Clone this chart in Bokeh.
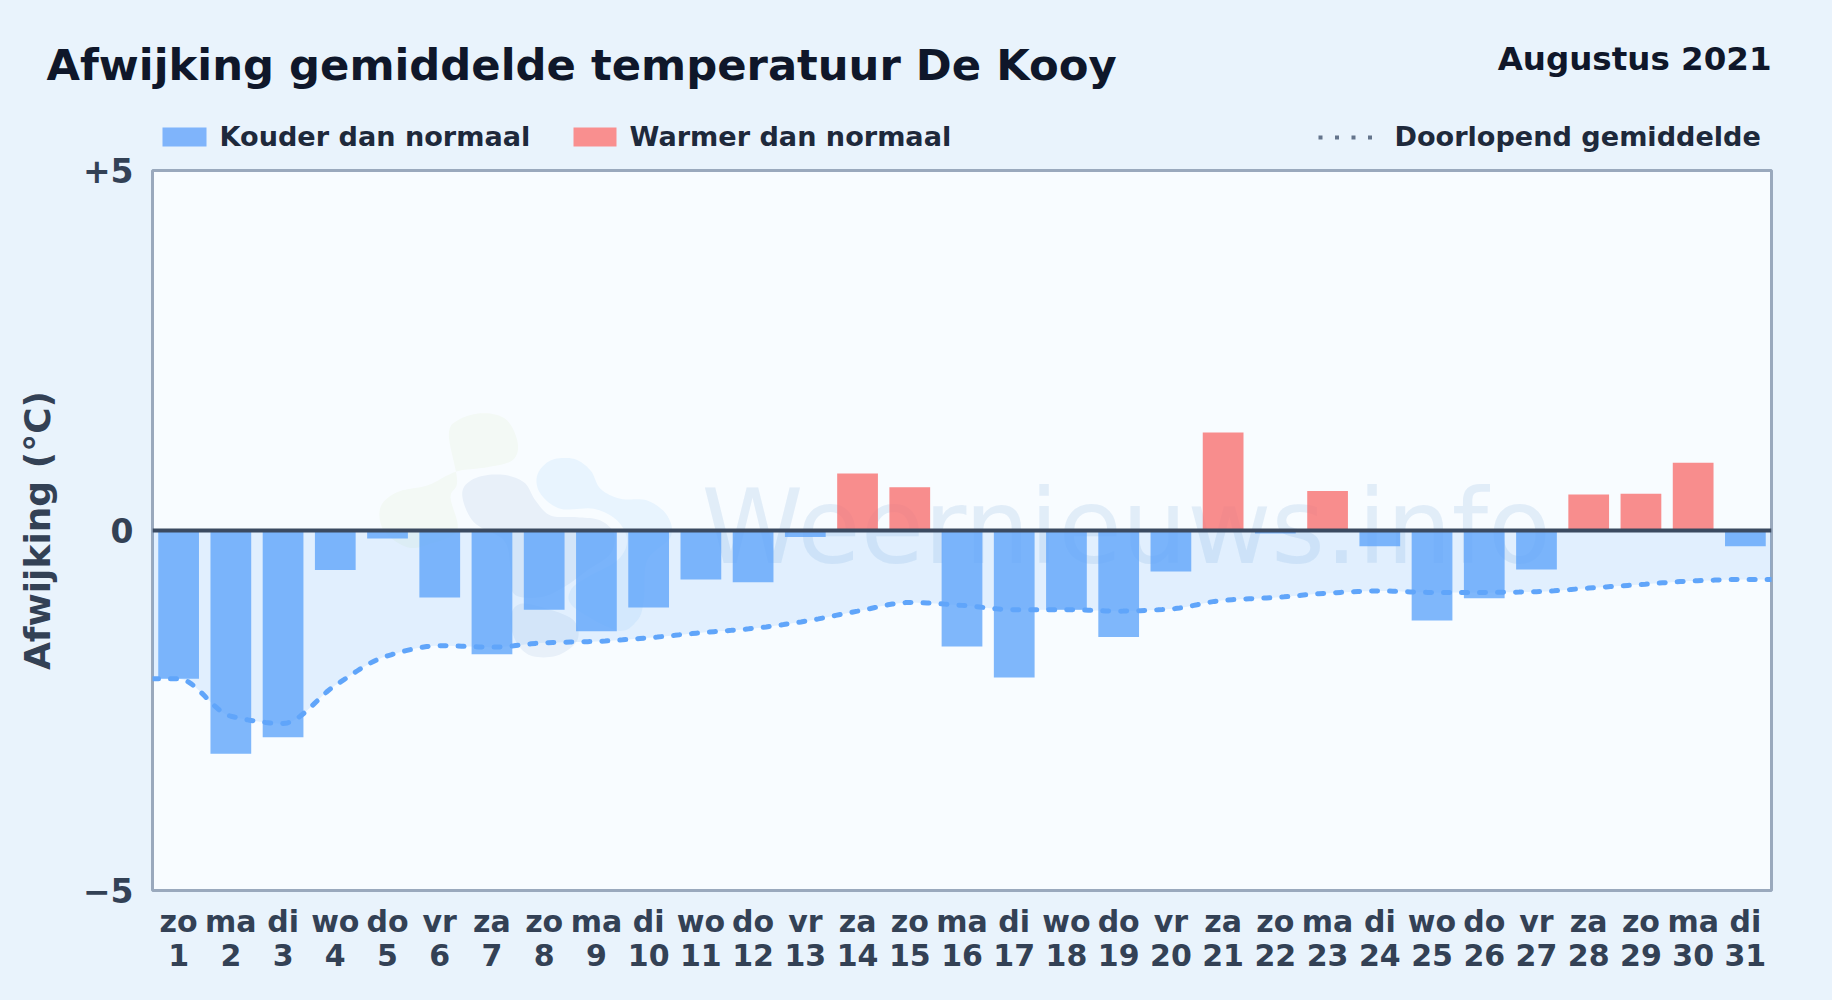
from bokeh.plotting import figure
from bokeh.models import Span, Range1d, FixedTicker, LinearAxis
from bokeh.core.properties import value
from bokeh.embed import file_html
from bokeh.resources import INLINE

# ---- data ----
days = list(range(1, 32))
weekdays = ["zo","ma","di","wo","do","vr","za","zo","ma","di","wo","do","vr","za","zo",
            "ma","di","wo","do","vr","za","zo","ma","di","wo","do","vr","za","zo","ma","di"]
afwijking = [-2.06,-3.10,-2.87,-0.55,-0.11,-0.93,-1.72,-1.10,-1.40,-1.07,-0.68,-0.72,-0.09,0.79,0.60,
             -1.61,-2.04,-1.10,-1.48,-0.57,1.36,-0.04,0.55,-0.22,-1.25,-0.94,-0.54,0.50,0.51,0.94,-0.22]
gemiddelde = [-2.06,-2.58,-2.68,-2.15,-1.74,-1.60,-1.62,-1.56,-1.54,-1.49,-1.42,-1.36,-1.26,-1.12,-1.00,
              -1.04,-1.10,-1.10,-1.12,-1.09,-0.97,-0.93,-0.87,-0.84,-0.86,-0.86,-0.85,-0.80,-0.75,-0.70,-0.68]
y_ticks = [-5, 0, 5]
y_tick_labels = {-5: "\u22125", 0: "0", 5: "+5"}

FONT = "DejaVu Sans"
W, H = 1832, 1000
HEAD = 165
F_L, F_T, F_W, F_H = 152, 170, 1619, 720   # frame on the page
BASE = 0.40   # renderer's alphabetic baseline sits this many font sizes lower

# ---- header strip: title, month and legend ----
hd = figure(width=W, height=HEAD, output_backend="svg", toolbar_location=None,
            x_range=Range1d(0, W), y_range=Range1d(HEAD, 0),
            min_border=0, x_axis_location=None, y_axis_location=None)
hd.border_fill_color = None
hd.background_fill_color = None
hd.outline_line_color = None
hd.grid.visible = False

def head_text(x, y, s, size, color, align="left"):
    hd.text([x], [y - BASE*size], text=[s], text_font=value(FONT), text_font_style="bold",
            text_font_size=f"{size}px", text_color=color, text_align=align, text_baseline="alphabetic")

head_text(46, 82, "Afwijking gemiddelde temperatuur De Kooy", 43.3, "#0f172a")
head_text(1771, 71, "Augustus 2021", 32.5, "#0f172a", "right")
hd.quad(left=[162], right=[206], top=[127], bottom=[146], fill_color="#7fb4fb", line_color=None)
head_text(219, 147, "Kouder dan normaal", 27.1, "#1e293b")
hd.quad(left=[573], right=[616], top=[127], bottom=[146], fill_color="#f98f8f", line_color=None)
head_text(629, 147, "Warmer dan normaal", 27.1, "#1e293b")
hd.quad(left=[1318, 1334.5, 1351, 1367.5], right=[1322, 1338.5, 1355, 1371.5],
        top=[135, 135, 135, 135], bottom=[139, 139, 139, 139], fill_color="#64748b", line_color=None)
head_text(1394, 147, "Doorlopend gemiddelde", 27.1, "#1e293b")

# ---- chart ----
p = figure(width=W, height=H, output_backend="svg", toolbar_location=None,
           x_range=Range1d(0.5, 31.5), y_range=Range1d(-5, 5),
           frame_width=F_W, frame_height=F_H,
           min_border_left=F_L, min_border_top=F_T, min_border_right=W-F_L-F_W,
           min_border_bottom=H-F_T-F_H)
p.border_fill_color = None
p.background_fill_color = "#f8fcff"
p.outline_line_color = "#9aa9bd"
p.outline_line_width = 3
p.grid.visible = False

def px_x(v):  # page pixel -> data
    return 0.5 + (v - F_L) / F_W * 31
def px_y(v):
    return 5 - (v - F_T) / F_H * 10

def smooth_closed(pts, n=10):
    out = []
    m = len(pts)
    for i in range(m):
        p0, p1, p2, p3 = pts[i-1], pts[i], pts[(i+1) % m], pts[(i+2) % m]
        for k in range(n):
            t = k / n
            f = lambda a, b, c, d: 0.5*(2*b + (c-a)*t + (2*a-5*b+4*c-d)*t*t + (3*b-a-3*c+d)*t*t*t)
            out.append((f(p0[0],p1[0],p2[0],p3[0]), f(p0[1],p1[1],p2[1],p3[1])))
    return out

def blob(pts, color):
    s = smooth_closed(pts)
    xs = [px_x(360 + a/3) for a, b in s]
    ys = [px_y(400 + b/3) for a, b in s]
    p.patch(xs, ys, fill_color=color, line_color=None, level="underlay")

# watermark
blob([(265,100),(300,55),(375,38),(440,60),(472,130),(455,180),(380,200),(300,210),(260,225),(200,255),
      (110,275),(60,320),(70,390),(140,440),(210,430),(290,390),(270,290),(290,240)], "#f3f9f5")
blob([(530,225),(570,180),(640,175),(690,210),(720,265),(780,295),(860,300),(920,345),(930,410),(860,480),
      (850,600),(830,660),(770,690),(640,620),(630,570),(680,530),(770,480),(800,420),(770,360),(700,325),
      (600,325),(540,280)], "#e8f4fe")
blob([(305,280),(340,235),(420,222),(490,245),(525,300),(570,345),(650,350),(720,360),(760,400),(750,460),
      (680,510),(610,560),(540,590),(460,580),(450,500),(430,420),(340,365)], "#e8f0f9")
blob([(450,650),(480,610),(560,625),(640,660),(650,720),(590,765),(510,765),(465,720)], "#e8f0f9")
p.text([px_x(701)], [px_y(568 - BASE*103)], text=["Weernieuws.info"], text_font=value(FONT), text_font_size="103px",
       text_color="#dbe8f6", text_alpha=0.8, text_baseline="alphabetic", level="underlay")

def monotone(xs, ys, n=12):
    m = len(xs)
    h = [xs[i+1]-xs[i] for i in range(m-1)]
    s = [(ys[i+1]-ys[i])/h[i] for i in range(m-1)]
    t = [s[0]] + [0.0]*(m-2) + [s[-1]]
    for i in range(1, m-1):
        if s[i-1]*s[i] > 0:
            t[i] = 2*s[i-1]*s[i]/(s[i-1]+s[i])
    cx, cy = [], []
    for i in range(m-1):
        for k in range(n):
            u = k/n
            a = 2*u**3-3*u**2+1; b = u**3-2*u**2+u; c = -2*u**3+3*u**2; d = u**3-u**2
            cx.append(xs[i]+u*h[i])
            cy.append(a*ys[i]+b*h[i]*t[i]+c*ys[i+1]+d*h[i]*t[i+1])
    cx.append(xs[-1]); cy.append(ys[-1])
    return cx, cy

cx, cy = monotone([0.5]+days+[31.5], [gemiddelde[0]]+gemiddelde+[gemiddelde[-1]])
p.varea(x=cx, y1=cy, y2=[0]*len(cx), fill_color="#60a5fa", fill_alpha=0.15)

cold_x = [d for d, v in zip(days, afwijking) if v < 0]
cold_v = [v for v in afwijking if v < 0]
warm_x = [d for d, v in zip(days, afwijking) if v >= 0]
warm_v = [v for v in afwijking if v >= 0]
p.vbar(x=cold_x, top=cold_v, bottom=0, width=0.78, fill_color="#60a5fa", fill_alpha=0.8, line_color=None)
p.vbar(x=warm_x, top=warm_v, bottom=0, width=0.78, fill_color="#f87171", fill_alpha=0.8, line_color=None)
p.line(cx, cy, line_color="#60a5fa", line_width=5, line_dash="6 12", line_cap="round")
p.add_layout(Span(location=0, dimension="width", line_color="#3b4a60", line_width=4))

# axes: weekday row and day-number row
p.xaxis.ticker = FixedTicker(ticks=days)
p.xaxis.major_label_overrides = {d: w for d, w in zip(days, weekdays)}
p.yaxis.ticker = FixedTicker(ticks=y_ticks)
p.yaxis.major_label_overrides = y_tick_labels
ax2 = LinearAxis(ticker=FixedTicker(ticks=days), major_label_overrides={d: str(d) for d in days})
p.add_layout(ax2, "below")
for ax in (p.xaxis[0], p.yaxis[0], ax2):
    ax.axis_line_color = None
    ax.major_tick_line_color = None
    ax.minor_tick_line_color = None
    ax.major_label_text_font = FONT
    ax.major_label_text_font_style = "bold"
    ax.major_label_text_color = "#334155"
p.xaxis[0].major_label_text_font_size = "30px"
ax2.major_label_text_font_size = "30px"
p.yaxis[0].major_label_text_font_size = "33px"
p.xaxis[0].major_label_standoff = 7
ax2.major_label_standoff = -4
p.yaxis.major_label_standoff = 13
p.yaxis.axis_label = "Afwijking (\u00b0C)"
p.yaxis.axis_label_text_font = FONT
p.yaxis.axis_label_text_font_style = "bold"
p.yaxis.axis_label_text_font_size = "36px"
p.yaxis.axis_label_text_color = "#334155"
p.yaxis.axis_label_standoff = 22

html = file_html((hd, p), INLINE)
style = ("<style>html{background:#e9f3fc;}body{background:transparent;}"
         "[data-root-id]{display:block!important;position:absolute;left:0;top:0;}</style>")
html = html.replace("</head>", style + "</head>", 1)
open("out.html", "w").write(html)
